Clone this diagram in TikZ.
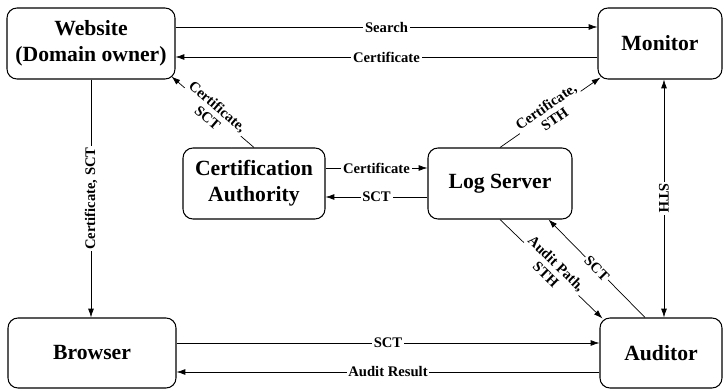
\documentclass[tikz,border=0pt]{standalone}
\usepackage{fontspec}
\setmainfont{Liberation Serif}
\usetikzlibrary{arrows.meta}

\tikzset{
    party/.style={draw, rounded corners=0.3cm, line width=0.9pt, align=center,
        inner sep=0pt, font=\fontsize{18.5}{22}\selectfont\bfseries},
    msg/.style={fill=white, inner sep=1.5pt, align=center,
        font=\fontsize{12.5}{13}\selectfont\bfseries}
}

\begin{document}
\begin{tikzpicture}[x=0.03cm, y=-0.03cm, line width=0.6pt, >={Latex[length=7.5pt,width=5pt]}]
        \useasboundingbox (0,0) rectangle (723,389);

        % Top row - website and monitor
        \node[party, minimum width=5.04cm, minimum height=2.13cm] (web) at (91,43.5) {Website\\(Domain owner)};
        \node[party, minimum width=3.72cm, minimum height=2.13cm] (mon) at (660,43.5) {Monitor};

        % Middle row - CA and log server
        \node[party, minimum width=4.26cm, minimum height=2.13cm] (ca) at (254,183.5) {Certification\\Authority};
        \node[party, minimum width=4.32cm, minimum height=2.13cm] (log) at (500,183.5) {Log Server};

        % Bottom row - browser and auditor
        \node[party, minimum width=5.04cm, minimum height=2.1cm] (brw) at (92,353) {Browser};
        \node[party, minimum width=3.66cm, minimum height=2.1cm] (aud) at (661,353) {Auditor};

        % Website and monitor
        \draw[->] (web.east |- 0,27) -- node[msg] {Search} (mon.west |- 0,27);
        \draw[->] (mon.west |- 0,57) -- node[msg] {Certificate} (web.east |- 0,57);

        % CA and log server
        \draw[->] (ca.east |- 0,168) -- node[msg] {Certificate} (log.west |- 0,168);
        \draw[->] (log.west |- 0,197) -- node[msg] {SCT} (ca.east |- 0,197);

        % Browser and auditor
        \draw[->] (brw.east |- 0,343) -- node[msg] {SCT} (aud.west |- 0,343);
        \draw[->] (aud.west |- 0,372) -- node[msg] {Audit Result} (brw.east |- 0,372);

        % Vertical links
        \draw[->] (web.south) -- node[msg, rotate=90] {Certificate, SCT} (web.south |- brw.north);
        \draw[<->] (mon.south -| 664,0) -- node[msg, rotate=-90] {STH} (664,0 |- aud.north);

        % Diagonal links
        \draw[->] (ca.north) -- node[msg, sloped] {Certificate,\\SCT} ([shift={(-4,-3)}]web.south east);
        \draw[->] (log.north) -- node[msg, sloped] {Certificate,\\STH} ([shift={(3,-2)}]mon.south west);
        \draw[->] (log.south) -- node[msg, sloped] {Audit Path,\\STH} ([shift={(3,1)}]aud.north west);
        \draw[->] ([shift={(-16,0)}]aud.north) -- node[msg, sloped] {SCT} ([shift={(-24,0)}]log.south east);
    \end{tikzpicture}
\end{document}
